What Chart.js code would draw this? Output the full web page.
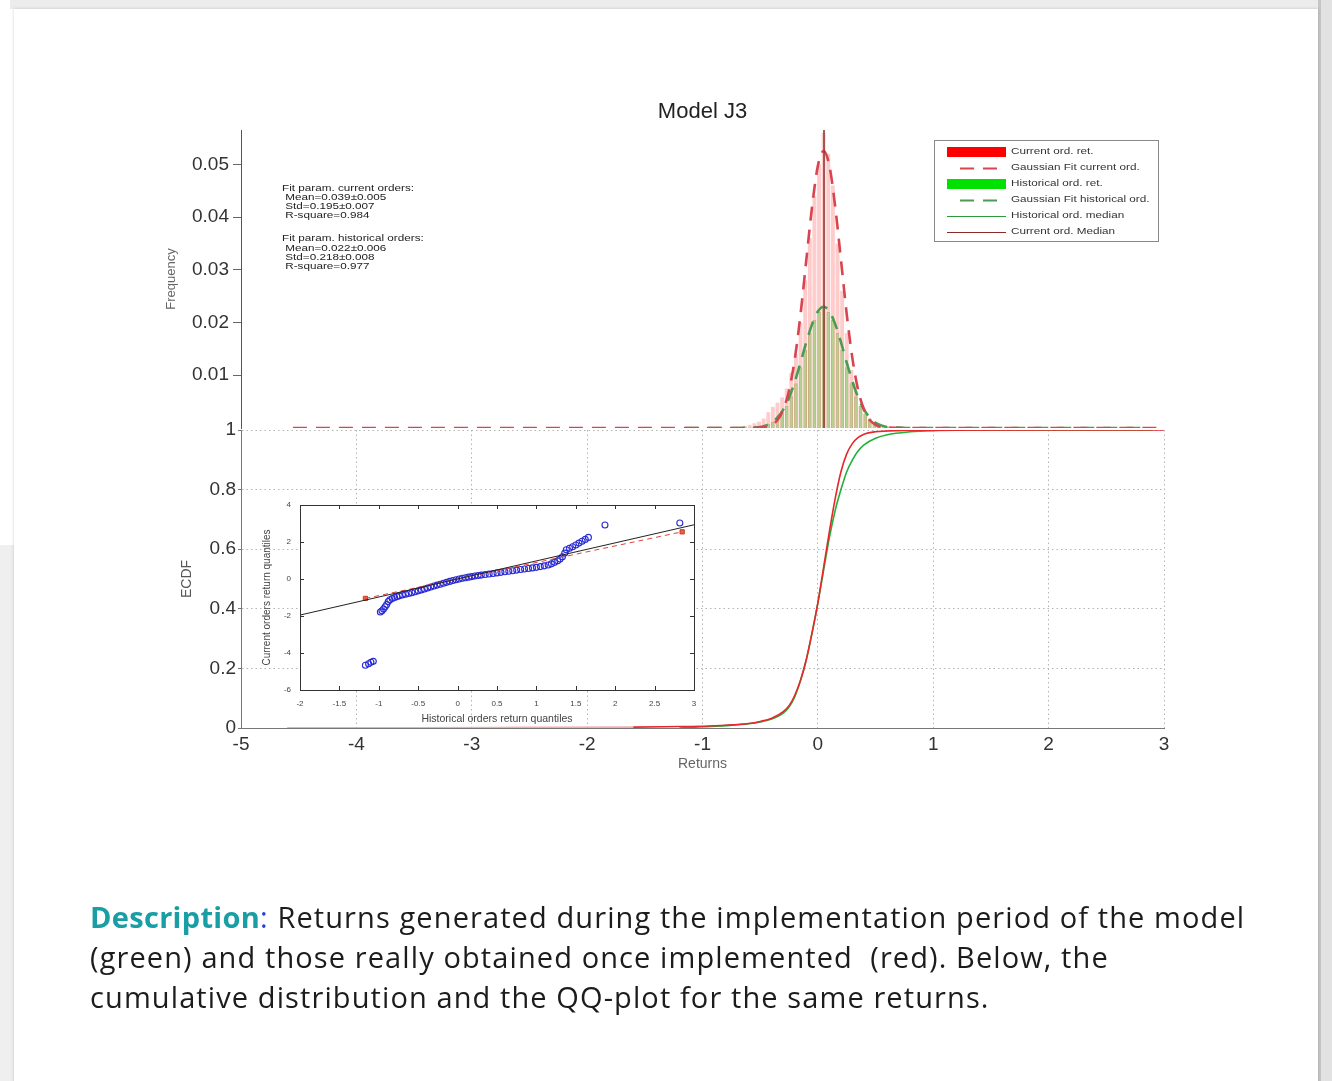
<!DOCTYPE html>
<html>
<head>
<meta charset="utf-8">
<title>Model J3</title>
<script src="https://cdn.jsdelivr.net/npm/chart.js@4.4.1/dist/chart.umd.min.js"></script>
<style>
  html, body { margin: 0; padding: 0; }
  body { width: 1332px; height: 1081px; position: relative; overflow: hidden; background: #fff; }
  .band-top { position: absolute; left: 10px; top: 0; width: 1322px; height: 9px; background: #ececec; }
  .band-left { position: absolute; left: 0; top: 545px; width: 14px; height: 536px; background: #efefef; }
  .band-right { position: absolute; left: 1318px; top: 0; width: 14px; height: 1081px; background: #e2e2e2; border-left: 3px solid #c6c6c6; box-sizing: border-box; }
  .card { position: absolute; left: 14px; top: 9px; width: 1304px; height: 1100px; background: #fff; box-shadow: 0 0 3px rgba(0,0,0,0.18); }
  canvas.layer { position: absolute; left: 0; top: 0; }
  .desc { position: absolute; left: 90px; top: 897px; font-family: 'Open Sans', 'Noto Sans', sans-serif; font-size: 29px; letter-spacing: 1.1px; line-height: 40px; color: #1c1c1c; white-space: nowrap; }
  .desc .lbl { color: #1a9ea6; font-weight: 700; letter-spacing: 0.3px; }
  .desc .colon { color: #2a3bd8; }
</style>
</head>
<body>
<div class="band-top"></div>
<div class="band-left"></div>
<div class="band-right"></div>
<div class="card"></div>

<canvas id="ecdfChart" class="layer" width="1332" height="1081"></canvas>
<canvas id="freqChart" class="layer" width="1332" height="1081"></canvas>
<canvas id="qqChart" class="layer" width="1332" height="1081"></canvas>

<div class="desc"><span class="lbl">Description</span><span class="colon">:</span> Returns generated during the implementation period of the model<br>(green) and those really obtained once implemented&nbsp; (red). Below, the<br>cumulative distribution and the QQ-plot for the same returns.</div>

<script>
// ---- histogram of returns (frequency per bin) ----
const binCenters = [-0.63, -0.59, -0.55, -0.51, -0.47, -0.43, -0.39, -0.35, -0.31, -0.27, -0.23, -0.19,
    -0.15, -0.11, -0.07, -0.03, 0.01, 0.05, 0.09, 0.13, 0.17, 0.21, 0.25, 0.29, 0.33, 0.37, 0.41, 0.45,
    0.49, 0.53, 0.57, 0.61, 0.65, 0.69, 0.73];
const currentFreq = [0.0004, 0.0006, 0.0009, 0.0012, 0.0018, 0.003, 0.004, 0.0048, 0.0058, 0.0075, 0.0105, 0.014,
    0.02, 0.028, 0.036, 0.044, 0.050, 0.056, 0.052, 0.046, 0.035, 0.026, 0.018, 0.011, 0.007, 0.0042, 0.0026, 0.0016,
    0.001, 0.0006, 0.0004, 0.0003, 0.0002, 0.0001, 0.0001];
const historicalFreq = [0.0001, 0.0001, 0.0002, 0.0003, 0.0005, 0.0008, 0.0012, 0.0018, 0.0028, 0.0042, 0.006, 0.0085,
    0.0115, 0.0148, 0.018, 0.0205, 0.022, 0.0228, 0.022, 0.0205, 0.018, 0.0148, 0.0115, 0.0085, 0.006, 0.0042, 0.0028, 0.0018,
    0.0012, 0.0008, 0.0005, 0.0003, 0.0002, 0.0001, 0.0001];

// ---- gaussian fits ----
const currentFitX = [-4.55, -1.0, -0.6, -0.5, -0.45, -0.4, -0.35, -0.3, -0.25, -0.2, -0.15, -0.1, -0.05, 0,
    0.05, 0.1, 0.15, 0.2, 0.25, 0.3, 0.35, 0.4, 0.45, 0.5, 0.55, 0.6, 0.7, 1.0, 3.0];
const currentFitY = [0, 0, 0, 0.0001, 0.0002, 0.0006, 0.0015, 0.0035, 0.0071, 0.0131, 0.0216, 0.0319, 0.042, 0.0497,
    0.0525, 0.0497, 0.042, 0.0319, 0.0216, 0.0131, 0.0071, 0.0035, 0.0015, 0.0006, 0.0002, 0.0001, 0, 0, 0];
const historicalFitX = [-1.15, -0.7, -0.6, -0.5, -0.45, -0.4, -0.35, -0.3, -0.25, -0.2, -0.15, -0.1, -0.05, 0,
    0.05, 0.1, 0.15, 0.2, 0.25, 0.3, 0.35, 0.4, 0.45, 0.5, 0.55, 0.6, 0.7, 0.8, 2.85];
const historicalFitY = [0, 0, 0.0001, 0.0002, 0.0005, 0.001, 0.002, 0.0035, 0.0057, 0.0088, 0.0124, 0.0163, 0.0197, 0.0221,
    0.023, 0.0221, 0.0197, 0.0163, 0.0124, 0.0088, 0.0057, 0.0035, 0.002, 0.001, 0.0005, 0.0002, 0.0001, 0, 0];

// medians (vertical lines)
const currentMedianX = [0.055, 0.055];
const historicalMedianX = [0.05, 0.05];
const medianY = [0, 0.0565];

// ---- empirical CDFs ----
const currentEcdfX = [-4.6, -3.5, -2.5, -1.6, -1.2, -1.0, -0.8, -0.6, -0.5, -0.4, -0.3, -0.25, -0.2, -0.15, -0.1,
    -0.05, 0, 0.05, 0.1, 0.15, 0.2, 0.25, 0.3, 0.35, 0.4, 0.5, 0.7, 1.0, 2.0, 3.0];
const currentEcdfY = [0.001, 0.001, 0.002, 0.003, 0.005, 0.006, 0.009, 0.015, 0.022, 0.033, 0.055, 0.075, 0.11, 0.16, 0.23,
    0.32, 0.42, 0.54, 0.66, 0.77, 0.86, 0.92, 0.955, 0.975, 0.986, 0.994, 0.998, 0.999, 1, 1];
const historicalEcdfX = [-1.2, -1.0, -0.8, -0.6, -0.5, -0.4, -0.3, -0.25, -0.2, -0.15, -0.1, -0.05, 0, 0.05, 0.1,
    0.15, 0.2, 0.25, 0.3, 0.35, 0.4, 0.5, 0.6, 0.8, 1.0, 1.5, 2.0, 2.9];
const historicalEcdfY = [0, 0.004, 0.008, 0.014, 0.02, 0.03, 0.05, 0.07, 0.105, 0.16, 0.23, 0.32, 0.42, 0.53, 0.64,
    0.73, 0.8, 0.86, 0.9, 0.93, 0.95, 0.972, 0.984, 0.994, 0.998, 1, 1, 1];

// ---- QQ plot: historical quantiles (x) vs current quantiles (y) ----
const qqHistX = [-1.17, -1.13, -1.10, -1.07, -0.98, -0.96, -0.94, -0.92, -0.90, -0.88, -0.86, -0.83, -0.80, -0.77,
    -0.74, -0.70, -0.66, -0.62, -0.58, -0.54, -0.50, -0.46, -0.42, -0.38, -0.34, -0.30, -0.26, -0.22, -0.18, -0.14,
    -0.10, -0.06, -0.02, 0.02, 0.06, 0.10, 0.14, 0.18, 0.22, 0.26, 0.30, 0.35, 0.40, 0.45, 0.50, 0.55, 0.60, 0.65,
    0.70, 0.75, 0.80, 0.85, 0.90, 0.95, 1.00, 1.05, 1.10, 1.15, 1.19, 1.23, 1.27, 1.30, 1.33, 1.36, 1.38, 1.42,
    1.46, 1.50, 1.54, 1.58, 1.62, 1.66, 1.87, 2.82];
const qqCurY = [-4.66, -4.58, -4.50, -4.45, -1.78, -1.72, -1.62, -1.50, -1.38, -1.22, -1.12, -1.06, -1.00, -0.95,
    -0.91, -0.86, -0.82, -0.78, -0.74, -0.69, -0.64, -0.59, -0.54, -0.49, -0.43, -0.38, -0.33, -0.28, -0.23, -0.18,
    -0.13, -0.08, -0.04, 0.00, 0.04, 0.07, 0.10, 0.13, 0.16, 0.19, 0.21, 0.24, 0.27, 0.30, 0.33, 0.36, 0.39, 0.42,
    0.45, 0.48, 0.51, 0.54, 0.57, 0.60, 0.63, 0.67, 0.71, 0.76, 0.82, 0.90, 0.98, 1.08, 1.20, 1.40, 1.58, 1.66,
    1.74, 1.84, 1.94, 2.04, 2.14, 2.25, 2.92, 3.03];
const qqRefX = [-2, 3];
const qqRefY = [-1.95, 2.93];
const qqFitX = [-1.17, 2.85];
const qqFitY = [-1.05, 2.55];

// tick values
const returnTicks = [-5, -4, -3, -2, -1, 0, 1, 2, 3];
const freqTicks = [0.01, 0.02, 0.03, 0.04, 0.05];
const ecdfTicks = [0, 0.2, 0.4, 0.6, 0.8, 1];
const qqXTicks = [-2, -1.5, -1, -0.5, 0, 0.5, 1, 1.5, 2, 2.5, 3];
const qqYTicks = [-6, -4, -2, 0, 2, 4];

const fitText = [
    'Fit param. current orders:',
    ' Mean=0.039±0.005',
    ' Std=0.195±0.007',
    ' R-square=0.984',
    '',
    'Fit param. historical orders:',
    ' Mean=0.022±0.006',
    ' Std=0.218±0.008',
    ' R-square=0.977'
];

const RED = '255, 0, 0';
const GREEN = '0, 225, 0';
const AXIS_FONT = "'Liberation Sans', Arial, sans-serif";

const toPoints = (xs, ys) => xs.map((x, i) => ({ x: x, y: ys[i] }));
const fixedTicks = values => scale => { scale.ticks = values.map(v => ({ value: v })); };

// small annotation text is drawn a bit wider than the font's natural width
function wideText(ctx, text, x, y, stretch) {
    ctx.save();
    ctx.translate(x, y);
    ctx.scale(stretch, 1);
    ctx.fillText(text, 0, 0);
    ctx.restore();
}

// legend box + fit parameter text on the frequency panel
const freqAnnotations = {
    id: 'freqAnnotations',
    afterDraw(chart) {
        const ctx = chart.ctx;
        ctx.save();
        ctx.textBaseline = 'middle';
        ctx.font = "9px " + AXIS_FONT;

        // fit parameters
        ctx.fillStyle = '#222';
        fitText.forEach((line, i) => {
            const y = i < 5 ? 189 + i * 9 : 239 + (i - 5) * 9.3;
            wideText(ctx, line, 282, y, 1.3);
        });

        // legend
        const bx = 934, by = 140, bw = 224, bh = 101;
        ctx.fillStyle = '#fff';
        ctx.fillRect(bx, by, bw, bh);
        ctx.strokeStyle = '#8a8a8a';
        ctx.lineWidth = 1;
        ctx.strokeRect(bx + 0.5, by + 0.5, bw, bh);

        const items = [
            { label: 'Current ord. ret.', kind: 'patch', color: 'rgb(' + RED + ')' },
            { label: 'Gaussian Fit current ord.', kind: 'dash', color: '#d9444f' },
            { label: 'Historical ord. ret.', kind: 'patch', color: 'rgb(' + GREEN + ')' },
            { label: 'Gaussian Fit historical ord.', kind: 'dash', color: '#4b9b55' },
            { label: 'Historical ord. median', kind: 'line', color: '#2e9a3c' },
            { label: 'Current ord. Median', kind: 'line', color: '#8a2b2b' }
        ];
        items.forEach((item, i) => {
            const y = 152 + i * 16;
            if (item.kind === 'patch') {
                ctx.fillStyle = item.color;
                ctx.fillRect(947, y - 5, 59, 10);
            } else {
                ctx.strokeStyle = item.color;
                ctx.lineWidth = item.kind === 'dash' ? 2 : 1;
                ctx.setLineDash(item.kind === 'dash' ? [14, 9] : []);
                ctx.beginPath();
                ctx.moveTo(item.kind === 'dash' ? 960 : 947, y + 0.5);
                ctx.lineTo(1006, y + 0.5);
                ctx.stroke();
                ctx.setLineDash([]);
            }
            ctx.fillStyle = '#333';
            wideText(ctx, item.label, 1011, y, 1.3);
        });
        ctx.restore();
    }
};

// white plot box with inward ticks for the QQ inset
const insetFrame = {
    id: 'insetFrame',
    beforeDraw(chart) {
        const a = chart.chartArea;
        chart.ctx.save();
        chart.ctx.fillStyle = '#fff';
        chart.ctx.fillRect(a.left, a.top, a.right - a.left, a.bottom - a.top);
        chart.ctx.restore();
    },
    afterDraw(chart) {
        const a = chart.chartArea, ctx = chart.ctx;
        const xs = chart.scales.x, ys = chart.scales.y;
        ctx.save();
        ctx.strokeStyle = '#333';
        ctx.lineWidth = 1;
        ctx.strokeRect(a.left + 0.5, a.top + 0.5, a.right - a.left, a.bottom - a.top);
        ctx.beginPath();
        qqXTicks.forEach(v => {
            const px = Math.round(xs.getPixelForValue(v)) + 0.5;
            ctx.moveTo(px, a.bottom); ctx.lineTo(px, a.bottom - 4);
            ctx.moveTo(px, a.top); ctx.lineTo(px, a.top + 4);
        });
        qqYTicks.forEach(v => {
            const py = Math.round(ys.getPixelForValue(v)) + 0.5;
            ctx.moveTo(a.left, py); ctx.lineTo(a.left + 4, py);
            ctx.moveTo(a.right, py); ctx.lineTo(a.right - 4, py);
        });
        ctx.stroke();
        ctx.restore();
    }
};

// ECDF panel (bottom)
new Chart(document.getElementById('ecdfChart'), {
    type: 'line',
    data: {
        datasets: [
            {
                label: 'Current ord.',
                data: toPoints(currentEcdfX, currentEcdfY),
                borderColor: '#e8262b',
                borderWidth: 1.6,
                pointRadius: 0,
                cubicInterpolationMode: 'monotone',
                segment: {
                    borderColor: c => c.p1.parsed.x <= -1.6 ? 'rgba(240, 150, 150, 0.8)' : undefined
                }
            },
            {
                label: 'Historical ord.',
                data: toPoints(historicalEcdfX, historicalEcdfY),
                borderColor: '#22b03a',
                borderWidth: 1.6,
                pointRadius: 0,
                cubicInterpolationMode: 'monotone'
            }
        ]
    },
    options: {
        responsive: false,
        animation: false,
        layout: { padding: { left: 174.6, right: 168, top: 430, bottom: 304.6 } },
        plugins: { legend: { display: false }, tooltip: { enabled: false } },
        scales: {
            x: {
                type: 'linear', min: -5, max: 3,
                afterBuildTicks: fixedTicks(returnTicks),
                afterFit: s => { s.height = 48.4; },
                grid: { color: '#b4b4b4', drawTicks: false },
                border: { display: true, color: '#777', dash: [1.5, 3] },
                ticks: { color: '#333', padding: 5, font: { family: AXIS_FONT, size: 19 }, callback: v => String(v) },
                title: { display: true, text: 'Returns', color: '#666', font: { family: AXIS_FONT, size: 14 } }
            },
            y: {
                min: 0, max: 1,
                afterBuildTicks: fixedTicks(ecdfTicks),
                afterFit: s => { s.width = 66.4; },
                grid: { color: '#b4b4b4', drawTicks: true, tickLength: 3, tickColor: '#777' },
                border: { display: true, color: '#777', dash: [1.5, 3] },
                ticks: { color: '#333', padding: 2, font: { family: AXIS_FONT, size: 19 }, callback: v => String(v) },
                title: { display: true, text: 'ECDF', color: '#555', font: { family: AXIS_FONT, size: 14 } }
            }
        }
    }
});

// frequency panel (top)
new Chart(document.getElementById('freqChart'), {
    type: 'bar',
    data: {
        datasets: [
            {
                type: 'line', label: 'Current ord. Median',
                data: toPoints(currentMedianX, medianY),
                borderColor: '#8a2b2b', borderWidth: 1, pointRadius: 0
            },
            {
                type: 'line', label: 'Historical ord. median',
                data: toPoints(historicalMedianX, medianY),
                borderColor: '#2e9a3c', borderWidth: 1, pointRadius: 0
            },
            {
                type: 'line', label: 'Gaussian Fit current ord.',
                data: toPoints(currentFitX, currentFitY),
                borderColor: '#d9444f', borderWidth: 2.6, borderDash: [14, 9],
                pointRadius: 0, cubicInterpolationMode: 'monotone'
            },
            {
                type: 'line', label: 'Gaussian Fit historical ord.',
                data: toPoints(historicalFitX, historicalFitY),
                borderColor: '#4b9b55', borderWidth: 2.6, borderDash: [14, 9],
                pointRadius: 0, cubicInterpolationMode: 'monotone'
            },
            {
                label: 'Historical ord. ret.',
                data: toPoints(binCenters, historicalFreq),
                backgroundColor: 'rgba(' + GREEN + ', 0.3)',
                borderColor: 'rgba(130, 140, 40, 0.45)', borderWidth: 1,
                grouped: false, barPercentage: 0.8, categoryPercentage: 1
            },
            {
                label: 'Current ord. ret.',
                data: toPoints(binCenters, currentFreq),
                backgroundColor: 'rgba(' + RED + ', 0.2)',
                borderWidth: 0,
                grouped: false, barPercentage: 0.85, categoryPercentage: 1
            }
        ]
    },
    options: {
        responsive: false,
        animation: false,
        layout: { padding: { left: 159.2, right: 168, top: 98.8, bottom: 653 } },
        plugins: {
            legend: { display: false },
            tooltip: { enabled: false },
            title: {
                display: true, text: 'Model J3', fullSize: false, color: '#222',
                font: { family: AXIS_FONT, size: 22, weight: 'normal' },
                padding: { top: 0, bottom: 4.8 }
            }
        },
        scales: {
            x: { type: 'linear', min: -5, max: 3, offset: false, display: false },
            y: {
                min: 0, max: 0.0565,
                afterBuildTicks: fixedTicks(freqTicks),
                afterFit: s => { s.width = 81.8; },
                grid: { drawOnChartArea: false, drawTicks: true, tickLength: 8, tickColor: '#666' },
                border: { display: true, color: '#555' },
                ticks: { color: '#333', padding: 4, font: { family: AXIS_FONT, size: 19 }, callback: v => v.toFixed(2) },
                title: { display: true, text: 'Frequency', color: '#666', font: { family: AXIS_FONT, size: 13 } }
            }
        }
    },
    plugins: [freqAnnotations]
});

// QQ inset
new Chart(document.getElementById('qqChart'), {
    type: 'scatter',
    data: {
        datasets: [
            {
                type: 'line', label: 'Reference',
                data: toPoints(qqRefX, qqRefY),
                borderColor: '#222', borderWidth: 1, pointRadius: 0
            },
            {
                type: 'line', label: 'Fit',
                data: toPoints(qqFitX, qqFitY),
                borderColor: '#e0453a', borderWidth: 1, borderDash: [5, 4], pointRadius: 0
            },
            {
                label: 'Fit ends',
                data: toPoints(qqFitX, qqFitY),
                pointStyle: 'rect', pointRadius: 3,
                backgroundColor: '#e8623f', borderColor: '#c83a2a', borderWidth: 1
            },
            {
                label: 'Quantiles',
                data: toPoints(qqHistX, qqCurY),
                pointStyle: 'circle', pointRadius: 3,
                backgroundColor: 'rgba(0,0,0,0)', borderColor: '#2a2ad6', borderWidth: 1.1
            }
        ]
    },
    options: {
        responsive: false,
        animation: false,
        layout: { padding: { left: 257, right: 638, top: 505, bottom: 351.7 } },
        plugins: { legend: { display: false }, tooltip: { enabled: false } },
        scales: {
            x: {
                type: 'linear', min: -2, max: 3,
                afterBuildTicks: fixedTicks(qqXTicks),
                afterFit: s => { s.height = 39.3; },
                grid: { display: false },
                border: { display: false },
                ticks: { color: '#444', padding: 1, font: { family: AXIS_FONT, size: 8 }, callback: v => String(v) },
                title: { display: true, text: 'Historical orders return quantiles', color: '#444', font: { family: AXIS_FONT, size: 10.5 } }
            },
            y: {
                min: -6, max: 4,
                afterBuildTicks: fixedTicks(qqYTicks),
                afterFit: s => { s.width = 43; },
                grid: { display: false },
                border: { display: false },
                ticks: { color: '#444', padding: 1, font: { family: AXIS_FONT, size: 8 }, callback: v => String(v) },
                title: { display: true, text: 'Current orders return quantiles', color: '#444', font: { family: AXIS_FONT, size: 10 } }
            }
        }
    },
    plugins: [insetFrame]
});
</script>
</body>
</html>
